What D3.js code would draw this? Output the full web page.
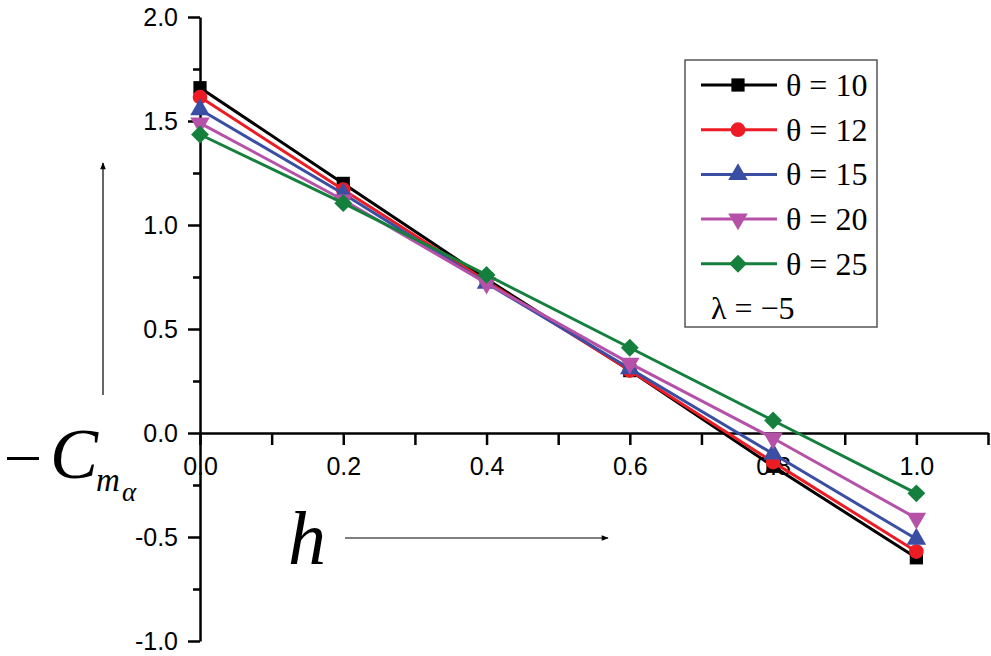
<!DOCTYPE html>
<html>
<head>
<meta charset="utf-8">
<script src="https://cdn.jsdelivr.net/npm/d3@7"></script>
<style>
  body { margin: 0; background: #fff; }
  svg { display: block; }
  .axis text { font-family: "Liberation Sans", Arial, sans-serif; font-size: 25px; fill: #000; }
  .axis path, .axis line { stroke: #000; stroke-width: 2.5px; }
</style>
</head>
<body>
<svg></svg>
<script>
// values
var hValues = [0, 0.2, 0.4, 0.6, 0.8, 1.0];
var thetas = [10, 12, 15, 20, 25];
var theta10 = [1.66, 1.20, 0.74, 0.30, -0.16, -0.60];
var theta12 = [1.615, 1.17, 0.73, 0.30, -0.14, -0.57];
var theta15 = [1.555, 1.15, 0.72, 0.31, -0.10, -0.51];
var theta20 = [1.49, 1.12, 0.72, 0.335, -0.025, -0.41];
var theta25 = [1.435, 1.105, 0.76, 0.41, 0.06, -0.29];
var xTicks = [0, 0.1, 0.2, 0.3, 0.4, 0.5, 0.6, 0.7, 0.8, 0.9, 1.0, 1.1];
var xTickLabels = ["0.0", "", "0.2", "", "0.4", "", "0.6", "", "0.8", "", "1.0", ""];
var yTicks = [-1, -0.75, -0.5, -0.25, 0, 0.25, 0.5, 0.75, 1, 1.25, 1.5, 1.75, 2];
var yTickLabels = ["-1.0", "", "-0.5", "", "0.0", "", "0.5", "", "1.0", "", "1.5", "", "2.0"];

var width = 991, height = 656;
var svg = d3.select("svg").attr("width", width).attr("height", height);

var x = d3.scaleLinear().domain([0, 1.1]).range([200, 988]);
var y = d3.scaleLinear().domain([-1, 2]).range([641, 17]);

var series = [
  { name: "θ = 10", values: theta10, color: "#000000", shape: "square" },
  { name: "θ = 12", values: theta12, color: "#ed1c24", shape: "circle" },
  { name: "θ = 15", values: theta15, color: "#3a4ea3", shape: "up" },
  { name: "θ = 20", values: theta20, color: "#b552a8", shape: "down" },
  { name: "θ = 25", values: theta25, color: "#15803d", shape: "diamond" }
];

// axes
var xAxis = d3.axisBottom(x)
    .tickValues(xTicks)
    .tickFormat(function(d, i) { return xTickLabels[i]; })
    .tickSize(12).tickSizeOuter(0).tickPadding(12);
svg.append("g").attr("class", "axis")
    .attr("transform", "translate(0," + y(0) + ")")
    .call(xAxis);

var yAxis = d3.axisLeft(y)
    .tickValues(yTicks)
    .tickFormat(function(d, i) { return yTickLabels[i]; })
    .tickSize(12).tickSizeOuter(0).tickPadding(10);
var gy = svg.append("g").attr("class", "axis")
    .attr("transform", "translate(" + x(0) + ",0)")
    .call(yAxis);
gy.selectAll(".tick").filter(function(d, i) { return i % 2 == 1; })
    .select("line").attr("x2", -7);

function symbolFor(shape) {
  if (shape == "square") return d3.symbol().type(d3.symbolSquare).size(175);
  if (shape == "circle") return d3.symbol().type(d3.symbolCircle).size(170);
  if (shape == "up") return d3.symbol().type(d3.symbolTriangle).size(165);
  if (shape == "down") return d3.symbol().type(d3.symbolTriangle).size(165);
  return d3.symbol().type(d3.symbolSquare).size(160);
}
function rotFor(shape) {
  if (shape == "down") return " rotate(180)";
  if (shape == "diamond") return " rotate(45)";
  return "";
}

var line = d3.line()
    .x(function(d, i) { return x(hValues[i]); })
    .y(function(d) { return y(d); });

series.forEach(function(s) {
  var g = svg.append("g");
  g.append("path")
      .attr("d", line(s.values))
      .attr("fill", "none")
      .attr("stroke", s.color)
      .attr("stroke-width", 3);
  g.selectAll("path.mark")
    .data(s.values)
    .enter().append("path")
      .attr("class", "mark")
      .attr("d", symbolFor(s.shape))
      .attr("fill", s.color)
      .attr("transform", function(d, i) {
        return "translate(" + x(hValues[i]) + "," + y(d) + ")" + rotFor(s.shape);
      });
});

// legend
var serif = "'Liberation Serif', 'Times New Roman', serif";
var legend = svg.append("g");
legend.append("rect")
    .attr("x", 685).attr("y", 60)
    .attr("width", 192).attr("height", 267)
    .attr("fill", "#fff")
    .attr("stroke", "#555").attr("stroke-width", 1.5);

var rows = legend.selectAll("g.row")
    .data(series)
    .enter().append("g")
      .attr("class", "row")
      .attr("transform", function(d, i) { return "translate(0," + (85 + i * 44.7) + ")"; });
rows.append("line")
    .attr("x1", 701).attr("x2", 777)
    .attr("stroke", function(d) { return d.color; })
    .attr("stroke-width", 3);
rows.append("path")
    .attr("d", function(d) { return symbolFor(d.shape)(); })
    .attr("fill", function(d) { return d.color; })
    .attr("transform", function(d) { return "translate(738,0)" + rotFor(d.shape); });
rows.append("text")
    .attr("x", 786).attr("y", 11)
    .style("font-family", serif)
    .style("font-size", "32px")
    .text(function(d) { return d.name; });

legend.append("text")
    .attr("x", 711).attr("y", 319)
    .style("font-family", serif)
    .style("font-size", "32px")
    .text("λ = −5");

// axis titles with arrows
var defs = svg.append("defs");
defs.append("marker")
    .attr("id", "arrow")
    .attr("viewBox", "0 0 10 10")
    .attr("refX", 9).attr("refY", 5)
    .attr("markerWidth", 9).attr("markerHeight", 7)
    .attr("markerUnits", "userSpaceOnUse")
    .attr("orient", "auto")
  .append("path")
    .attr("d", "M0,1 L10,5 L0,9 Z")
    .attr("fill", "#000");

svg.append("line")
    .attr("x1", 103).attr("y1", 395)
    .attr("x2", 103).attr("y2", 163)
    .attr("stroke", "#000").attr("stroke-width", 1.2)
    .attr("marker-end", "url(#arrow)");

svg.append("line")
    .attr("x1", 345).attr("y1", 538)
    .attr("x2", 608).attr("y2", 538)
    .attr("stroke", "#000").attr("stroke-width", 1.2)
    .attr("marker-end", "url(#arrow)");

svg.append("rect")
    .attr("x", 7).attr("y", 457)
    .attr("width", 32).attr("height", 3)
    .attr("fill", "#000");
svg.append("text")
    .attr("x", 50).attr("y", 478)
    .style("font-family", serif).style("font-style", "italic")
    .style("font-size", "72px")
    .text("C");
svg.append("text")
    .attr("x", 96).attr("y", 491)
    .style("font-family", serif).style("font-style", "italic")
    .style("font-size", "33px")
    .text("m");
svg.append("text")
    .attr("x", 122).attr("y", 501)
    .style("font-family", serif).style("font-style", "italic")
    .style("font-size", "27px")
    .text("α");

svg.append("text")
    .attr("x", 288).attr("y", 564)
    .style("font-family", serif).style("font-style", "italic")
    .style("font-size", "76px")
    .text("h");
</script>
</body>
</html>
